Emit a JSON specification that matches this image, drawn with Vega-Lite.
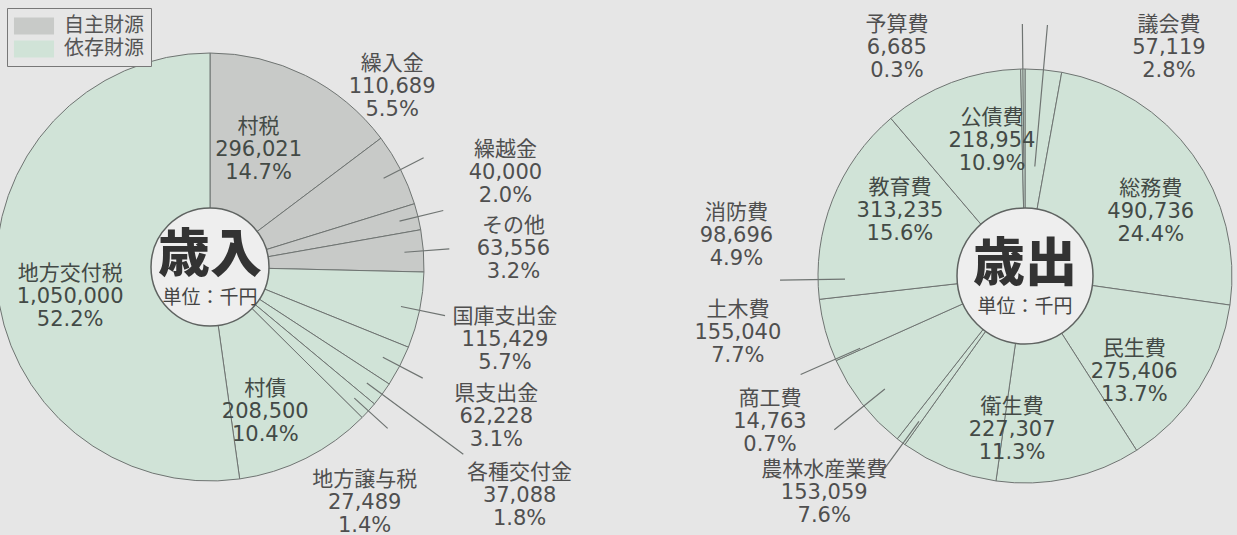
{
  "$schema": "https://vega.github.io/schema/vega-lite/v6.json",
  "width": 1237,
  "height": 535,
  "autosize": "none",
  "padding": 0,
  "background": "#e6e6e6",
  "config": {"view": {"stroke": null}},
  "datasets": {
    "slices": [
      {"side": "歳入", "name": "村税", "value": 296021, "pct": 14.7, "group": "自主財源", "order": 1},
      {"side": "歳入", "name": "繰入金", "value": 110689, "pct": 5.5, "group": "自主財源", "order": 2},
      {"side": "歳入", "name": "繰越金", "value": 40000, "pct": 2.0, "group": "自主財源", "order": 3},
      {"side": "歳入", "name": "その他", "value": 63556, "pct": 3.2, "group": "自主財源", "order": 4},
      {"side": "歳入", "name": "国庫支出金", "value": 115429, "pct": 5.7, "group": "依存財源", "order": 5},
      {"side": "歳入", "name": "県支出金", "value": 62228, "pct": 3.1, "group": "依存財源", "order": 6},
      {"side": "歳入", "name": "各種交付金", "value": 37088, "pct": 1.8, "group": "依存財源", "order": 7},
      {"side": "歳入", "name": "地方譲与税", "value": 27489, "pct": 1.4, "group": "依存財源", "order": 8},
      {"side": "歳入", "name": "村債", "value": 208500, "pct": 10.4, "group": "依存財源", "order": 9},
      {"side": "歳入", "name": "地方交付税", "value": 1050000, "pct": 52.2, "group": "依存財源", "order": 10},
      {"side": "歳出", "name": "議会費", "value": 57119, "pct": 2.8, "group": "歳出", "order": 1},
      {"side": "歳出", "name": "総務費", "value": 490736, "pct": 24.4, "group": "歳出", "order": 2},
      {"side": "歳出", "name": "民生費", "value": 275406, "pct": 13.7, "group": "歳出", "order": 3},
      {"side": "歳出", "name": "衛生費", "value": 227307, "pct": 11.3, "group": "歳出", "order": 4},
      {"side": "歳出", "name": "農林水産業費", "value": 153059, "pct": 7.6, "group": "歳出", "order": 5},
      {"side": "歳出", "name": "商工費", "value": 14763, "pct": 0.7, "group": "歳出", "order": 6},
      {"side": "歳出", "name": "土木費", "value": 155040, "pct": 7.7, "group": "歳出", "order": 7},
      {"side": "歳出", "name": "消防費", "value": 98696, "pct": 4.9, "group": "歳出", "order": 8},
      {"side": "歳出", "name": "教育費", "value": 313235, "pct": 15.6, "group": "歳出", "order": 9},
      {"side": "歳出", "name": "公債費", "value": 218954, "pct": 10.9, "group": "歳出", "order": 10},
      {"side": "歳出", "name": "予算費", "value": 6685, "pct": 0.3, "group": "歳出", "order": 11}
    ],
    "centers": [
      {"side": "歳入", "title": "歳入", "unit": "単位：千円"},
      {"side": "歳出", "title": "歳出", "unit": "単位：千円"}
    ]
  },
  "data": {"name": "slices"},
  "layer": [
    {
      "transform": [{"filter": "datum.side === '歳入'"}],
      "mark": {"type": "arc", "outerRadius": 214, "stroke": "#6f7472", "strokeWidth": 1},
      "encoding": {
        "theta": {"field": "value", "type": "quantitative", "stack": true},
        "order": {"field": "order", "type": "quantitative"},
        "x": {"field": "side", "type": "nominal", "scale": {"type": "point", "domain": ["歳入", "歳出"], "range": [210, 1025], "padding": 0}, "axis": null},
        "y": {"field": "side", "type": "nominal", "scale": {"type": "point", "domain": ["歳入", "歳出"], "range": [267, 276], "padding": 0}, "axis": null},
        "color": {
          "field": "group", "type": "nominal",
          "scale": {"domain": ["自主財源", "依存財源", "歳出"], "range": ["#c8cac8", "#d0e3d7", "#d0e3d7"]},
          "legend": {
            "orient": "none", "legendX": 7, "legendY": 8, "title": null,
            "values": ["自主財源", "依存財源"],
            "symbolType": "M-1.82,-0.77H1.82V0.77H-1.82Z", "symbolSize": 484, "symbolStrokeWidth": 0, "symbolOffset": 9,
            "labelFontSize": 20, "labelFont": "Noto Sans CJK JP", "labelColor": "#555555",
            "strokeColor": "#777777", "fillColor": "#e6e6e6", "padding": 7, "rowPadding": 2, "labelOffset": 19
          }
        }
      }
    },
    {
      "transform": [{"filter": "datum.side === '歳出'"}],
      "mark": {"type": "arc", "outerRadius": 207, "stroke": "#6f7472", "strokeWidth": 1},
      "encoding": {
        "theta": {"field": "value", "type": "quantitative", "stack": true},
        "order": {"field": "order", "type": "quantitative"},
        "x": {"field": "side", "type": "nominal", "scale": {"type": "point", "domain": ["歳入", "歳出"], "range": [210, 1025], "padding": 0}, "axis": null},
        "y": {"field": "side", "type": "nominal", "scale": {"type": "point", "domain": ["歳入", "歳出"], "range": [267, 276], "padding": 0}, "axis": null},
        "color": {"field": "group", "type": "nominal", "scale": {"domain": ["自主財源", "依存財源", "歳出"], "range": ["#c8cac8", "#d0e3d7", "#d0e3d7"]}}
      }
    },
    {
      "transform": [{"filter": "datum.side === '歳入'"}],
      "mark": {"type": "arc", "innerRadius": 195, "outerRadius": 240, "padAngle": 3, "filled": false, "stroke": "#6f7472", "strokeWidth": 1.2},
      "encoding": {
        "theta": {"field": "value", "type": "quantitative", "stack": true},
        "order": {"field": "order", "type": "quantitative"},
        "x": {"field": "side", "type": "nominal", "scale": {"type": "point", "domain": ["歳入", "歳出"], "range": [210, 1025], "padding": 0}, "axis": null},
        "y": {"field": "side", "type": "nominal", "scale": {"type": "point", "domain": ["歳入", "歳出"], "range": [267, 276], "padding": 0}, "axis": null},
        "strokeOpacity": {"condition": {"test": "indexof(['繰入金','繰越金','その他','国庫支出金','県支出金','地方譲与税'], datum.name) >= 0", "value": 1}, "value": 0}
      }
    },
    {
      "transform": [{"filter": "datum.side === '歳入'"}],
      "mark": {"type": "arc", "innerRadius": 195, "outerRadius": 315, "padAngle": 3, "filled": false, "stroke": "#6f7472", "strokeWidth": 1.2},
      "encoding": {
        "theta": {"field": "value", "type": "quantitative", "stack": true},
        "order": {"field": "order", "type": "quantitative"},
        "x": {"field": "side", "type": "nominal", "scale": {"type": "point", "domain": ["歳入", "歳出"], "range": [210, 1025], "padding": 0}, "axis": null},
        "y": {"field": "side", "type": "nominal", "scale": {"type": "point", "domain": ["歳入", "歳出"], "range": [267, 276], "padding": 0}, "axis": null},
        "strokeOpacity": {"condition": {"test": "datum.name === '各種交付金'", "value": 1}, "value": 0}
      }
    },
    {
      "transform": [{"filter": "datum.side === '歳出'"}],
      "mark": {"type": "arc", "innerRadius": 180, "outerRadius": 245, "padAngle": 3, "thetaOffset": 0.25, "filled": false, "stroke": "#6f7472", "strokeWidth": 1.2},
      "encoding": {
        "theta": {"field": "value", "type": "quantitative", "stack": true},
        "order": {"field": "order", "type": "quantitative"},
        "x": {"field": "side", "type": "nominal", "scale": {"type": "point", "domain": ["歳入", "歳出"], "range": [210, 1025], "padding": 0}, "axis": null},
        "y": {"field": "side", "type": "nominal", "scale": {"type": "point", "domain": ["歳入", "歳出"], "range": [267, 276], "padding": 0}, "axis": null},
        "strokeOpacity": {"condition": {"test": "indexof(['消防費','土木費','商工費','農林水産業費'], datum.name) >= 0", "value": 1}, "value": 0}
      }
    },
    {
      "transform": [{"filter": "datum.side === '歳出'"}],
      "mark": {"type": "arc", "innerRadius": 110, "outerRadius": 252, "padAngle": 3, "filled": false, "stroke": "#6f7472", "strokeWidth": 1.2},
      "encoding": {
        "theta": {"field": "value", "type": "quantitative", "stack": true},
        "order": {"field": "order", "type": "quantitative"},
        "x": {"field": "side", "type": "nominal", "scale": {"type": "point", "domain": ["歳入", "歳出"], "range": [210, 1025], "padding": 0}, "axis": null},
        "y": {"field": "side", "type": "nominal", "scale": {"type": "point", "domain": ["歳入", "歳出"], "range": [267, 276], "padding": 0}, "axis": null},
        "strokeOpacity": {"condition": {"test": "indexof(['議会費','予算費'], datum.name) >= 0", "value": 1}, "value": 0}
      }
    },
    {
      "data": {"name": "centers"},
      "transform": [{"filter": "datum.side === '歳入'"}],
      "mark": {"type": "point", "shape": "circle", "size": 13924, "filled": true, "fill": "#eeeeee", "stroke": "#5f6361", "strokeWidth": 1.5, "opacity": 1},
      "encoding": {
        "x": {"field": "side", "type": "nominal", "scale": {"type": "point", "domain": ["歳入", "歳出"], "range": [210, 1025], "padding": 0}, "axis": null},
        "y": {"field": "side", "type": "nominal", "scale": {"type": "point", "domain": ["歳入", "歳出"], "range": [267, 276], "padding": 0}, "axis": null}
      }
    },
    {
      "data": {"name": "centers"},
      "transform": [{"filter": "datum.side === '歳出'"}],
      "mark": {"type": "point", "shape": "circle", "size": 18496, "filled": true, "fill": "#eeeeee", "stroke": "#5f6361", "strokeWidth": 1.5, "opacity": 1},
      "encoding": {
        "x": {"field": "side", "type": "nominal", "scale": {"type": "point", "domain": ["歳入", "歳出"], "range": [210, 1025], "padding": 0}, "axis": null},
        "y": {"field": "side", "type": "nominal", "scale": {"type": "point", "domain": ["歳入", "歳出"], "range": [267, 276], "padding": 0}, "axis": null}
      }
    },
    {
      "data": {"name": "centers"},
      "mark": {"type": "text", "fontSize": 52, "fontWeight": 900, "font": "Noto Sans CJK JP", "color": "#333333", "dy": -11, "align": "center", "baseline": "middle"},
      "encoding": {
        "x": {"field": "side", "type": "nominal", "scale": {"type": "point", "domain": ["歳入", "歳出"], "range": [210, 1025], "padding": 0}, "axis": null},
        "y": {"field": "side", "type": "nominal", "scale": {"type": "point", "domain": ["歳入", "歳出"], "range": [267, 276], "padding": 0}, "axis": null},
        "text": {"field": "title", "type": "nominal"}
      }
    },
    {
      "data": {"name": "centers"},
      "mark": {"type": "text", "fontSize": 19, "font": "Noto Sans CJK JP", "color": "#444444", "dy": 31, "align": "center", "baseline": "middle"},
      "encoding": {
        "x": {"field": "side", "type": "nominal", "scale": {"type": "point", "domain": ["歳入", "歳出"], "range": [210, 1025], "padding": 0}, "axis": null},
        "y": {"field": "side", "type": "nominal", "scale": {"type": "point", "domain": ["歳入", "歳出"], "range": [267, 276], "padding": 0}, "axis": null},
        "text": {"field": "unit", "type": "nominal"}
      }
    },
    {
      "transform": [{"filter": "datum.side === '歳入'"}, {"calculate": "datum.name + '\\n' + format(datum.value, ',') + '\\n' + format(datum.pct, '.1f') + '%'", "as": "label"}],
      "mark": {"type": "text", "radius": 127, "thetaOffset": -0.07, "dy": -23, "fontSize": 21, "lineHeight": 23, "lineBreak": "\n", "font": "DejaVu Sans, Noto Sans CJK JP", "color": "#434a46", "align": "center", "baseline": "middle"},
      "encoding": {
        "theta": {"field": "value", "type": "quantitative", "stack": true},
        "order": {"field": "order", "type": "quantitative"},
        "x": {"field": "side", "type": "nominal", "scale": {"type": "point", "domain": ["歳入", "歳出"], "range": [210, 1025], "padding": 0}, "axis": null},
        "y": {"field": "side", "type": "nominal", "scale": {"type": "point", "domain": ["歳入", "歳出"], "range": [267, 276], "padding": 0}, "axis": null},
        "text": {"condition": {"test": "datum.name === '村税'", "field": "label"}, "value": ""}
      }
    },
    {
      "transform": [{"filter": "datum.side === '歳入'"}, {"calculate": "datum.name + '\\n' + format(datum.value, ',') + '\\n' + format(datum.pct, '.1f') + '%'", "as": "label"}],
      "mark": {"type": "text", "radius": 155, "thetaOffset": 0.1, "dy": -23, "fontSize": 21, "lineHeight": 23, "lineBreak": "\n", "font": "DejaVu Sans, Noto Sans CJK JP", "color": "#434a46", "align": "center", "baseline": "middle"},
      "encoding": {
        "theta": {"field": "value", "type": "quantitative", "stack": true},
        "order": {"field": "order", "type": "quantitative"},
        "x": {"field": "side", "type": "nominal", "scale": {"type": "point", "domain": ["歳入", "歳出"], "range": [210, 1025], "padding": 0}, "axis": null},
        "y": {"field": "side", "type": "nominal", "scale": {"type": "point", "domain": ["歳入", "歳出"], "range": [267, 276], "padding": 0}, "axis": null},
        "text": {"condition": {"test": "datum.name === '村債'", "field": "label"}, "value": ""}
      }
    },
    {
      "transform": [{"filter": "datum.side === '歳入'"}, {"calculate": "datum.name + '\\n' + format(datum.value, ',') + '\\n' + format(datum.pct, '.1f') + '%'", "as": "label"}],
      "mark": {"type": "text", "radius": 143, "thetaOffset": -0.14, "dy": -23, "fontSize": 21, "lineHeight": 23, "lineBreak": "\n", "font": "DejaVu Sans, Noto Sans CJK JP", "color": "#434a46", "align": "center", "baseline": "middle"},
      "encoding": {
        "theta": {"field": "value", "type": "quantitative", "stack": true},
        "order": {"field": "order", "type": "quantitative"},
        "x": {"field": "side", "type": "nominal", "scale": {"type": "point", "domain": ["歳入", "歳出"], "range": [210, 1025], "padding": 0}, "axis": null},
        "y": {"field": "side", "type": "nominal", "scale": {"type": "point", "domain": ["歳入", "歳出"], "range": [267, 276], "padding": 0}, "axis": null},
        "text": {"condition": {"test": "datum.name === '地方交付税'", "field": "label"}, "value": ""}
      }
    },
    {
      "transform": [{"filter": "datum.side === '歳入'"}, {"calculate": "datum.name + '\\n' + format(datum.value, ',') + '\\n' + format(datum.pct, '.1f') + '%'", "as": "label"}],
      "mark": {"type": "text", "radius": 310, "thetaOffset": -0.07, "dy": -23, "fontSize": 21, "lineHeight": 23, "lineBreak": "\n", "font": "DejaVu Sans, Noto Sans CJK JP", "color": "#4f4f4f", "align": "center", "baseline": "middle"},
      "encoding": {
        "theta": {"field": "value", "type": "quantitative", "stack": true},
        "order": {"field": "order", "type": "quantitative"},
        "x": {"field": "side", "type": "nominal", "scale": {"type": "point", "domain": ["歳入", "歳出"], "range": [210, 1025], "padding": 0}, "axis": null},
        "y": {"field": "side", "type": "nominal", "scale": {"type": "point", "domain": ["歳入", "歳出"], "range": [267, 276], "padding": 0}, "axis": null},
        "text": {"condition": {"test": "datum.name === '繰越金'", "field": "label"}, "value": ""}
      }
    },
    {
      "transform": [{"filter": "datum.side === '歳入'"}, {"calculate": "datum.name + '\\n' + format(datum.value, ',') + '\\n' + format(datum.pct, '.1f') + '%'", "as": "label"}],
      "mark": {"type": "text", "radius": 304, "thetaOffset": 0.015, "dy": -23, "fontSize": 21, "lineHeight": 23, "lineBreak": "\n", "font": "DejaVu Sans, Noto Sans CJK JP", "color": "#4f4f4f", "align": "center", "baseline": "middle"},
      "encoding": {
        "theta": {"field": "value", "type": "quantitative", "stack": true},
        "order": {"field": "order", "type": "quantitative"},
        "x": {"field": "side", "type": "nominal", "scale": {"type": "point", "domain": ["歳入", "歳出"], "range": [210, 1025], "padding": 0}, "axis": null},
        "y": {"field": "side", "type": "nominal", "scale": {"type": "point", "domain": ["歳入", "歳出"], "range": [267, 276], "padding": 0}, "axis": null},
        "text": {"condition": {"test": "datum.name === 'その他'", "field": "label"}, "value": ""}
      }
    },
    {
      "transform": [{"filter": "datum.side === '歳入'"}, {"calculate": "datum.name + '\\n' + format(datum.value, ',') + '\\n' + format(datum.pct, '.1f') + '%'", "as": "label"}],
      "mark": {"type": "text", "radius": 304, "thetaOffset": 0.04, "dy": -23, "fontSize": 21, "lineHeight": 23, "lineBreak": "\n", "font": "DejaVu Sans, Noto Sans CJK JP", "color": "#4f4f4f", "align": "center", "baseline": "middle"},
      "encoding": {
        "theta": {"field": "value", "type": "quantitative", "stack": true},
        "order": {"field": "order", "type": "quantitative"},
        "x": {"field": "side", "type": "nominal", "scale": {"type": "point", "domain": ["歳入", "歳出"], "range": [210, 1025], "padding": 0}, "axis": null},
        "y": {"field": "side", "type": "nominal", "scale": {"type": "point", "domain": ["歳入", "歳出"], "range": [267, 276], "padding": 0}, "axis": null},
        "text": {"condition": {"test": "datum.name === '国庫支出金'", "field": "label"}, "value": ""}
      }
    },
    {
      "transform": [{"filter": "datum.side === '歳入'"}, {"calculate": "datum.name + '\\n' + format(datum.value, ',') + '\\n' + format(datum.pct, '.1f') + '%'", "as": "label"}],
      "mark": {"type": "text", "radius": 323, "dy": -23, "fontSize": 21, "lineHeight": 23, "lineBreak": "\n", "font": "DejaVu Sans, Noto Sans CJK JP", "color": "#4f4f4f", "align": "center", "baseline": "middle"},
      "encoding": {
        "theta": {"field": "value", "type": "quantitative", "stack": true},
        "order": {"field": "order", "type": "quantitative"},
        "x": {"field": "side", "type": "nominal", "scale": {"type": "point", "domain": ["歳入", "歳出"], "range": [210, 1025], "padding": 0}, "axis": null},
        "y": {"field": "side", "type": "nominal", "scale": {"type": "point", "domain": ["歳入", "歳出"], "range": [267, 276], "padding": 0}, "axis": null},
        "text": {"condition": {"test": "datum.name === '県支出金'", "field": "label"}, "value": ""}
      }
    },
    {
      "transform": [{"filter": "datum.side === '歳入'"}, {"calculate": "datum.name + '\\n' + format(datum.value, ',') + '\\n' + format(datum.pct, '.1f') + '%'", "as": "label"}],
      "mark": {"type": "text", "radius": 385, "dy": -23, "fontSize": 21, "lineHeight": 23, "lineBreak": "\n", "font": "DejaVu Sans, Noto Sans CJK JP", "color": "#4f4f4f", "align": "center", "baseline": "middle"},
      "encoding": {
        "theta": {"field": "value", "type": "quantitative", "stack": true},
        "order": {"field": "order", "type": "quantitative"},
        "x": {"field": "side", "type": "nominal", "scale": {"type": "point", "domain": ["歳入", "歳出"], "range": [210, 1025], "padding": 0}, "axis": null},
        "y": {"field": "side", "type": "nominal", "scale": {"type": "point", "domain": ["歳入", "歳出"], "range": [267, 276], "padding": 0}, "axis": null},
        "text": {"condition": {"test": "datum.name === '各種交付金'", "field": "label"}, "value": ""}
      }
    },
    {
      "transform": [{"filter": "datum.side === '歳入'"}, {"calculate": "datum.name + '\\n' + format(datum.value, ',') + '\\n' + format(datum.pct, '.1f') + '%'", "as": "label"}],
      "mark": {"type": "text", "radius": 256, "thetaOffset": -0.306, "dy": -23, "fontSize": 21, "lineHeight": 23, "lineBreak": "\n", "font": "DejaVu Sans, Noto Sans CJK JP", "color": "#4f4f4f", "align": "center", "baseline": "middle"},
      "encoding": {
        "theta": {"field": "value", "type": "quantitative", "stack": true},
        "order": {"field": "order", "type": "quantitative"},
        "x": {"field": "side", "type": "nominal", "scale": {"type": "point", "domain": ["歳入", "歳出"], "range": [210, 1025], "padding": 0}, "axis": null},
        "y": {"field": "side", "type": "nominal", "scale": {"type": "point", "domain": ["歳入", "歳出"], "range": [267, 276], "padding": 0}, "axis": null},
        "text": {"condition": {"test": "datum.name === '繰入金'", "field": "label"}, "value": ""}
      }
    },
    {
      "transform": [{"filter": "datum.side === '歳入'"}, {"calculate": "datum.name + '\\n' + format(datum.value, ',') + '\\n' + format(datum.pct, '.1f') + '%'", "as": "label"}],
      "mark": {"type": "text", "radius": 282, "thetaOffset": 0.253, "dy": -23, "fontSize": 21, "lineHeight": 23, "lineBreak": "\n", "font": "DejaVu Sans, Noto Sans CJK JP", "color": "#4f4f4f", "align": "center", "baseline": "middle"},
      "encoding": {
        "theta": {"field": "value", "type": "quantitative", "stack": true},
        "order": {"field": "order", "type": "quantitative"},
        "x": {"field": "side", "type": "nominal", "scale": {"type": "point", "domain": ["歳入", "歳出"], "range": [210, 1025], "padding": 0}, "axis": null},
        "y": {"field": "side", "type": "nominal", "scale": {"type": "point", "domain": ["歳入", "歳出"], "range": [267, 276], "padding": 0}, "axis": null},
        "text": {"condition": {"test": "datum.name === '地方譲与税'", "field": "label"}, "value": ""}
      }
    },
    {
      "transform": [{"filter": "datum.side === '歳出'"}, {"calculate": "datum.name + '\\n' + format(datum.value, ',') + '\\n' + format(datum.pct, '.1f') + '%'", "as": "label"}],
      "mark": {"type": "text", "radius": 143, "thetaOffset": 0.13, "dy": -19, "fontSize": 21, "lineHeight": 23, "lineBreak": "\n", "font": "DejaVu Sans, Noto Sans CJK JP", "color": "#434a46", "align": "center", "baseline": "middle"},
      "encoding": {
        "theta": {"field": "value", "type": "quantitative", "stack": true},
        "order": {"field": "order", "type": "quantitative"},
        "x": {"field": "side", "type": "nominal", "scale": {"type": "point", "domain": ["歳入", "歳出"], "range": [210, 1025], "padding": 0}, "axis": null},
        "y": {"field": "side", "type": "nominal", "scale": {"type": "point", "domain": ["歳入", "歳出"], "range": [267, 276], "padding": 0}, "axis": null},
        "text": {"condition": {"test": "indexof(['総務費','民生費','教育費','公債費'], datum.name) >= 0", "field": "label"}, "value": ""}
      }
    },
    {
      "transform": [{"filter": "datum.side === '歳出'"}, {"calculate": "datum.name + '\\n' + format(datum.value, ',') + '\\n' + format(datum.pct, '.1f') + '%'", "as": "label"}],
      "mark": {"type": "text", "radius": 151, "thetaOffset": 0.3, "dy": -19, "fontSize": 21, "lineHeight": 23, "lineBreak": "\n", "font": "DejaVu Sans, Noto Sans CJK JP", "color": "#434a46", "align": "center", "baseline": "middle"},
      "encoding": {
        "theta": {"field": "value", "type": "quantitative", "stack": true},
        "order": {"field": "order", "type": "quantitative"},
        "x": {"field": "side", "type": "nominal", "scale": {"type": "point", "domain": ["歳入", "歳出"], "range": [210, 1025], "padding": 0}, "axis": null},
        "y": {"field": "side", "type": "nominal", "scale": {"type": "point", "domain": ["歳入", "歳出"], "range": [267, 276], "padding": 0}, "axis": null},
        "text": {"condition": {"test": "datum.name === '衛生費'", "field": "label"}, "value": ""}
      }
    },
    {
      "transform": [{"filter": "datum.side === '歳出'"}, {"calculate": "datum.name + '\\n' + format(datum.value, ',') + '\\n' + format(datum.pct, '.1f') + '%'", "as": "label"}],
      "mark": {"type": "text", "radius": 292, "thetaOffset": 0.42, "dy": -19, "fontSize": 21, "lineHeight": 23, "lineBreak": "\n", "font": "DejaVu Sans, Noto Sans CJK JP", "color": "#4f4f4f", "align": "center", "baseline": "middle"},
      "encoding": {
        "theta": {"field": "value", "type": "quantitative", "stack": true},
        "order": {"field": "order", "type": "quantitative"},
        "x": {"field": "side", "type": "nominal", "scale": {"type": "point", "domain": ["歳入", "歳出"], "range": [210, 1025], "padding": 0}, "axis": null},
        "y": {"field": "side", "type": "nominal", "scale": {"type": "point", "domain": ["歳入", "歳出"], "range": [267, 276], "padding": 0}, "axis": null},
        "text": {"condition": {"test": "indexof(['消防費','商工費'], datum.name) >= 0", "field": "label"}, "value": ""}
      }
    },
    {
      "transform": [{"filter": "datum.side === '歳出'"}, {"calculate": "datum.name + '\\n' + format(datum.value, ',') + '\\n' + format(datum.pct, '.1f') + '%'", "as": "label"}],
      "mark": {"type": "text", "radius": 292, "thetaOffset": 0.48, "dy": -19, "fontSize": 21, "lineHeight": 23, "lineBreak": "\n", "font": "DejaVu Sans, Noto Sans CJK JP", "color": "#4f4f4f", "align": "center", "baseline": "middle"},
      "encoding": {
        "theta": {"field": "value", "type": "quantitative", "stack": true},
        "order": {"field": "order", "type": "quantitative"},
        "x": {"field": "side", "type": "nominal", "scale": {"type": "point", "domain": ["歳入", "歳出"], "range": [210, 1025], "padding": 0}, "axis": null},
        "y": {"field": "side", "type": "nominal", "scale": {"type": "point", "domain": ["歳入", "歳出"], "range": [267, 276], "padding": 0}, "axis": null},
        "text": {"condition": {"test": "datum.name === '土木費'", "field": "label"}, "value": ""}
      }
    },
    {
      "transform": [{"filter": "datum.side === '歳出'"}, {"calculate": "datum.name + '\\n' + format(datum.value, ',') + '\\n' + format(datum.pct, '.1f') + '%'", "as": "label"}],
      "mark": {"type": "text", "radius": 293, "thetaOffset": 0.375, "dy": -19, "fontSize": 21, "lineHeight": 23, "lineBreak": "\n", "font": "DejaVu Sans, Noto Sans CJK JP", "color": "#4f4f4f", "align": "center", "baseline": "middle"},
      "encoding": {
        "theta": {"field": "value", "type": "quantitative", "stack": true},
        "order": {"field": "order", "type": "quantitative"},
        "x": {"field": "side", "type": "nominal", "scale": {"type": "point", "domain": ["歳入", "歳出"], "range": [210, 1025], "padding": 0}, "axis": null},
        "y": {"field": "side", "type": "nominal", "scale": {"type": "point", "domain": ["歳入", "歳出"], "range": [267, 276], "padding": 0}, "axis": null},
        "text": {"condition": {"test": "datum.name === '農林水産業費'", "field": "label"}, "value": ""}
      }
    },
    {
      "transform": [{"filter": "datum.side === '歳出'"}, {"calculate": "datum.name + '\\n' + format(datum.value, ',') + '\\n' + format(datum.pct, '.1f') + '%'", "as": "label"}],
      "mark": {"type": "text", "radius": 273, "thetaOffset": 0.466, "dy": -19, "fontSize": 21, "lineHeight": 23, "lineBreak": "\n", "font": "DejaVu Sans, Noto Sans CJK JP", "color": "#4f4f4f", "align": "center", "baseline": "middle"},
      "encoding": {
        "theta": {"field": "value", "type": "quantitative", "stack": true},
        "order": {"field": "order", "type": "quantitative"},
        "x": {"field": "side", "type": "nominal", "scale": {"type": "point", "domain": ["歳入", "歳出"], "range": [210, 1025], "padding": 0}, "axis": null},
        "y": {"field": "side", "type": "nominal", "scale": {"type": "point", "domain": ["歳入", "歳出"], "range": [267, 276], "padding": 0}, "axis": null},
        "text": {"condition": {"test": "datum.name === '議会費'", "field": "label"}, "value": ""}
      }
    },
    {
      "transform": [{"filter": "datum.side === '歳出'"}, {"calculate": "datum.name + '\\n' + format(datum.value, ',') + '\\n' + format(datum.pct, '.1f') + '%'", "as": "label"}],
      "mark": {"type": "text", "radius": 265, "thetaOffset": -0.494, "dy": -19, "fontSize": 21, "lineHeight": 23, "lineBreak": "\n", "font": "DejaVu Sans, Noto Sans CJK JP", "color": "#4f4f4f", "align": "center", "baseline": "middle"},
      "encoding": {
        "theta": {"field": "value", "type": "quantitative", "stack": true},
        "order": {"field": "order", "type": "quantitative"},
        "x": {"field": "side", "type": "nominal", "scale": {"type": "point", "domain": ["歳入", "歳出"], "range": [210, 1025], "padding": 0}, "axis": null},
        "y": {"field": "side", "type": "nominal", "scale": {"type": "point", "domain": ["歳入", "歳出"], "range": [267, 276], "padding": 0}, "axis": null},
        "text": {"condition": {"test": "datum.name === '予算費'", "field": "label"}, "value": ""}
      }
    }
  ]
}
